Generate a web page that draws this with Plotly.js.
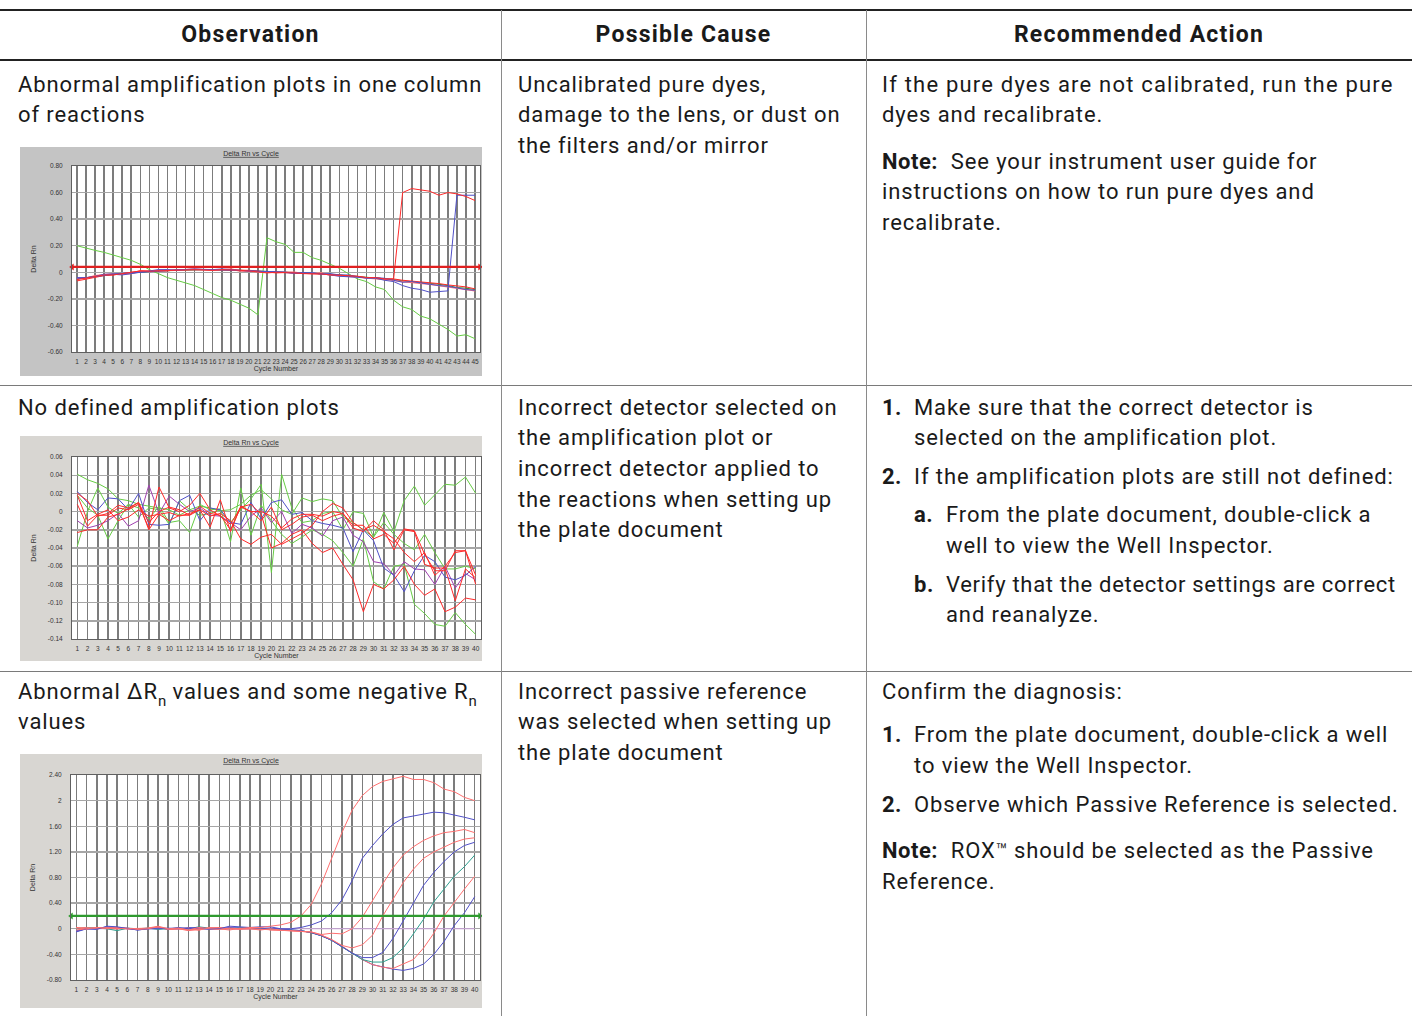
<!DOCTYPE html>
<html>
<head>
<meta charset="utf-8">
<script src="https://cdn.plot.ly/plotly-3.0.1.min.js"></script>
<style>
  html, body { margin:0; padding:0; background:#fff; }
  body { width:1412px; height:1016px; position:relative; overflow:hidden; font-family: Roboto, "DejaVu Sans", sans-serif; color:#1a1a1a; }
  .ln { position:absolute; white-space:nowrap; font-size:22px; letter-spacing:0.9px; line-height:30px; height:30px; }
  .hd { position:absolute; white-space:nowrap; font-size:23px; font-weight:700; line-height:30px; text-align:center; letter-spacing:1.2px; }
  .rule { position:absolute; background:#222; }
  .vr { position:absolute; background:#8a8a8a; width:1px; }
  .chart { position:absolute; }
  b { font-weight:700; letter-spacing:0.5px; }
  .sb { position:relative; top:7px; font-size:15px; letter-spacing:0; }
  .tm { position:relative; top:-1px; font-size:19px; letter-spacing:0; }
</style>
</head>
<body>
<script>
// ---------------- DATA ----------------
// Chart 1: Delta Rn vs Cycle (45 cycles)
const cycles45 = [1,2,3,4,5,6,7,8,9,10,11,12,13,14,15,16,17,18,19,20,21,22,23,24,25,26,27,28,29,30,31,32,33,34,35,36,37,38,39,40,41,42,43,44,45];
const c1Base1 = [-0.05,-0.04,-0.03,-0.02,-0.015,-0.01,-0.005,0.005,0.008,0.01,0.012,0.015,0.018,0.02,0.02,0.018,0.018,0.02,0.015,0.012,0.01,0.005,0.002,0.0,-0.002,-0.005,-0.008,-0.01,-0.015,-0.02,-0.025,-0.03,-0.035,-0.04,-0.05,-0.055,-0.065,-0.07,-0.08,-0.085,-0.09,-0.1,-0.115,-0.12,-0.13];
const c1Base2 = [-0.045,-0.045,-0.025,-0.02,-0.01,-0.015,-0.01,0.01,0.005,0.015,0.02,0.015,0.02,0.025,0.02,0.015,0.02,0.025,0.01,0.01,0.005,0.0,0.0,-0.005,0.0,-0.008,-0.01,-0.005,-0.02,-0.025,-0.03,-0.035,-0.04,-0.045,-0.055,-0.06,-0.07,-0.075,-0.085,-0.09,-0.1,-0.11,-0.12,-0.13,-0.14];
const c1Base3 = [-0.065,-0.05,-0.035,-0.025,-0.02,-0.01,0.0,0.01,0.01,0.012,0.01,0.02,0.02,0.015,0.02,0.02,0.015,0.02,0.02,0.015,0.01,0.0,-0.005,-0.002,-0.005,-0.005,-0.012,-0.015,-0.015,-0.02,-0.03,-0.03,-0.04,-0.04,-0.05,-0.05,-0.06,-0.065,-0.075,-0.08,-0.085,-0.095,-0.1,-0.11,-0.125];
const c1Base4 = [-0.04,-0.04,-0.03,-0.015,-0.012,-0.005,-0.003,0.0,0.005,0.005,0.015,0.018,0.022,0.025,0.022,0.02,0.02,0.018,0.015,0.01,0.008,0.005,0.005,0.002,-0.008,-0.002,-0.005,-0.012,-0.01,-0.02,-0.02,-0.035,-0.045,-0.04,-0.045,-0.06,-0.075,-0.07,-0.08,-0.095,-0.1,-0.105,-0.12,-0.13,-0.135];
const c1SpikeRed = [-0.055,-0.045,-0.03,-0.02,-0.02,-0.01,-0.005,0.01,0.008,0.01,0.015,0.018,0.02,0.02,0.018,0.015,0.02,0.02,0.015,0.01,0.005,-0.005,0.0,0.0,-0.005,-0.01,-0.01,-0.012,-0.02,-0.02,-0.025,-0.03,-0.04,-0.04,-0.05,-0.05,0.60,0.63,0.62,0.61,0.58,0.60,0.59,0.57,0.54];
const c1SpikeBlue = [-0.05,-0.04,-0.03,-0.02,-0.015,-0.02,-0.01,0.0,0.01,0.02,0.02,0.015,0.02,0.02,0.018,0.02,0.025,0.02,0.01,0.008,0.005,0.005,0.0,-0.005,-0.005,-0.01,-0.005,-0.01,-0.02,-0.03,-0.035,-0.04,-0.04,-0.045,-0.06,-0.07,-0.10,-0.12,-0.13,-0.15,-0.145,-0.14,0.58,0.58,0.58];
const c1Drift = [0.20,0.18,0.165,0.15,0.13,0.11,0.09,0.06,0.02,-0.01,-0.04,-0.06,-0.08,-0.10,-0.13,-0.16,-0.19,-0.21,-0.24,-0.27,-0.32,0.26,0.23,0.21,0.15,0.15,0.11,0.09,0.06,0.03,-0.01,-0.05,-0.07,-0.11,-0.13,-0.21,-0.26,-0.28,-0.33,-0.35,-0.39,-0.43,-0.48,-0.47,-0.50];
const c1Threshold = 0.04;
const c1TickVals = [0.8,0.6,0.4,0.2,0,-0.2,-0.4,-0.6];
const c1TickText = ["0.80","0.60","0.40","0.20","0","-0.20","-0.40","-0.60"];

// Chart 2: Delta Rn vs Cycle (40 cycles), noisy, no amplification
const cycles40 = [1,2,3,4,5,6,7,8,9,10,11,12,13,14,15,16,17,18,19,20,21,22,23,24,25,26,27,28,29,30,31,32,33,34,35,36,37,38,39,40];
const c2GreenA = [0.041,0.035,0.031,0.025,0.014,0.012,0.008,0.006,0.004,0.002,-0.004,0.002,0.006,0.004,0.001,0.002,0.008,0.018,0.024,0.014,0.002,-0.003,0.015,0.011,0.014,0.012,-0.006,-0.012,-0.02,-0.028,-0.001,-0.022,0.012,0.028,0.007,0.018,0.03,0.029,0.038,0.02];
const c2GreenB = [-0.038,0.0,0.026,0.005,-0.002,0.008,0.004,-0.008,0.006,-0.012,-0.01,-0.023,0.008,0.002,0.003,-0.033,0.026,-0.026,0.007,-0.01,-0.025,-0.035,-0.028,-0.02,-0.025,-0.032,-0.045,-0.06,-0.03,-0.077,-0.085,-0.06,-0.058,-0.102,-0.112,-0.124,-0.126,-0.111,-0.124,-0.135];
const c2GreenC = [0.018,0.004,-0.004,-0.03,-0.01,0.008,-0.006,0.004,0.002,-0.014,0.012,0.002,-0.004,-0.002,0.002,-0.012,0.002,0.014,0.03,-0.067,0.041,0.004,-0.012,-0.01,-0.002,0.0,-0.02,0.0,-0.002,-0.028,-0.012,-0.025,-0.035,-0.042,-0.025,-0.045,-0.063,-0.063,-0.06,-0.063];
const c2Blue = [0.022,0.01,0.002,0.015,0.014,0.002,0.02,-0.014,-0.015,-0.014,0.012,0.018,-0.01,0.004,0.002,-0.012,-0.014,0.01,-0.008,0.01,0.013,-0.003,-0.001,-0.01,-0.013,-0.015,-0.018,-0.044,-0.02,-0.032,-0.062,-0.07,-0.088,-0.065,-0.048,-0.055,-0.072,-0.075,-0.07,-0.06];
const c2Purple = [-0.01,-0.018,-0.015,-0.01,-0.002,-0.016,-0.01,0.029,-0.002,0.017,0.008,0.0,0.004,-0.004,-0.005,-0.012,-0.02,-0.005,0.004,-0.012,0.0,-0.024,-0.014,-0.018,-0.027,-0.01,-0.006,-0.026,-0.033,-0.055,-0.057,-0.07,-0.055,-0.063,-0.064,-0.08,-0.06,-0.084,-0.068,-0.075];
const c2RedD = [0.008,-0.016,-0.004,-0.004,0.004,0.002,0.008,-0.018,0.027,0.004,0.0,0.007,0.02,0.002,-0.005,-0.014,0.005,0.008,-0.003,-0.04,-0.035,-0.025,-0.02,-0.035,-0.045,-0.04,-0.058,-0.075,-0.11,-0.08,-0.085,-0.075,-0.06,-0.08,-0.092,-0.085,-0.11,-0.105,-0.095,-0.097];
const c2RedE = [-0.023,-0.02,-0.02,-0.006,-0.003,0.003,0.01,-0.02,-0.003,-0.001,-0.005,-0.002,0.002,-0.017,0.013,-0.022,0.006,0.0,-0.01,0.005,-0.02,-0.014,-0.006,-0.004,-0.01,-0.005,-0.002,-0.018,-0.022,-0.01,-0.02,-0.042,-0.02,-0.022,-0.058,-0.062,-0.062,-0.098,-0.063,-0.073];
const c2RedF = [0.02,0.012,-0.005,-0.002,0.007,0.004,0.01,-0.012,0.0,0.005,0.002,-0.004,0.002,-0.005,-0.002,-0.01,-0.03,-0.036,-0.028,-0.025,-0.036,-0.03,-0.024,-0.015,0.0,0.009,0.004,-0.012,-0.02,-0.015,-0.022,-0.03,-0.045,-0.055,-0.045,-0.07,-0.06,-0.045,-0.043,-0.08];
const c2RedG = [0.018,-0.01,-0.003,0.002,-0.01,-0.006,0.002,-0.005,-0.003,-0.01,-0.004,-0.004,0.006,-0.002,-0.004,-0.02,0.005,0.0,0.0,-0.005,-0.018,-0.008,-0.003,-0.003,-0.005,0.0,-0.002,-0.015,-0.015,-0.03,-0.025,-0.035,-0.019,-0.021,-0.047,-0.065,-0.065,-0.043,-0.043,-0.07];
const c2TickVals = [0.06,0.04,0.02,0,-0.02,-0.04,-0.06,-0.08,-0.10,-0.12,-0.14];
const c2TickText = ["0.06","0.04","0.02","0","-0.02","-0.04","-0.06","-0.08","-0.10","-0.12","-0.14"];

// Chart 3: Delta Rn vs Cycle (40 cycles), wrong passive reference
const c3Red1  = [-0.02,0.0,0.02,0.01,0.0,0.01,-0.01,0.0,0.03,0.0,0.01,-0.02,0.02,0.0,-0.01,0.01,0.0,0.02,0.02,0.04,0.06,0.1,0.2,0.38,0.7,1.1,1.5,1.85,2.08,2.22,2.3,2.34,2.38,2.33,2.33,2.28,2.18,2.14,2.05,2.0];
const c3Blue1 = [-0.05,0.0,-0.01,0.04,0.03,0.0,-0.02,0.0,0.01,0.0,0.02,0.0,0.02,0.0,0.0,0.04,0.03,0.02,0.03,0.03,0.0,0.0,0.02,0.06,0.12,0.25,0.45,0.75,1.1,1.3,1.48,1.63,1.73,1.76,1.8,1.82,1.81,1.78,1.74,1.7];
const c3Red2  = [0.02,-0.01,0.02,0.02,0.01,0.0,0.0,0.01,0.04,0.0,0.0,-0.03,0.0,0.01,0.02,0.0,0.0,0.0,-0.02,0.0,-0.02,-0.03,-0.04,-0.05,-0.09,-0.07,-0.08,0.0,0.18,0.45,0.7,0.95,1.15,1.28,1.38,1.45,1.5,1.52,1.55,1.5];
const c3Red3  = [0.01,0.02,0.0,0.01,0.02,0.0,-0.01,0.01,0.02,-0.01,0.0,0.01,-0.02,0.02,0.0,-0.02,0.01,0.0,-0.01,-0.01,-0.02,-0.03,-0.04,-0.05,-0.1,-0.17,-0.26,-0.3,-0.25,-0.1,0.2,0.45,0.72,0.93,1.1,1.2,1.28,1.35,1.4,1.42];
const c3Blue2 = [-0.03,0.0,0.0,0.03,0.02,0.01,-0.02,0.0,0.0,0.01,0.0,0.02,0.01,-0.01,0.0,0.02,0.01,0.0,0.0,0.01,-0.01,-0.02,-0.03,-0.06,-0.11,-0.18,-0.28,-0.38,-0.45,-0.45,-0.37,-0.15,0.12,0.4,0.68,0.88,1.05,1.2,1.3,1.35];
const c3Teal  = [0.0,0.02,0.01,0.0,-0.03,0.01,0.0,0.01,-0.01,0.0,0.01,0.0,0.03,0.01,0.0,0.0,0.02,0.01,0.0,0.0,-0.01,-0.02,-0.03,-0.06,-0.11,-0.18,-0.28,-0.38,-0.48,-0.52,-0.52,-0.45,-0.3,-0.08,0.15,0.42,0.62,0.82,0.97,1.15];
const c3Red4  = [0.02,0.0,0.02,0.0,0.0,0.0,0.01,0.0,0.03,-0.01,0.0,-0.02,-0.02,0.01,0.02,0.0,-0.01,0.0,0.02,-0.02,-0.02,-0.03,-0.04,-0.06,-0.1,-0.17,-0.27,-0.38,-0.48,-0.56,-0.6,-0.62,-0.55,-0.48,-0.3,-0.07,0.2,0.42,0.62,0.82];
const c3Blue3 = [-0.04,0.0,0.0,0.02,0.02,0.0,0.0,0.0,0.02,-0.01,0.0,0.0,0.01,0.0,0.0,0.0,0.01,0.0,0.0,0.0,-0.01,-0.02,-0.03,-0.06,-0.11,-0.18,-0.28,-0.38,-0.48,-0.56,-0.6,-0.63,-0.65,-0.62,-0.55,-0.4,-0.2,0.05,0.25,0.5];
const c3Purple = [0,0,0,0,0,0,0,0,0,0,0,0,0,0,0,0,0,0,0,0,0,0,0,0,0,0,0,0,0,0,0,0,0,0,0,0,0,0,0,0];
const c3Threshold = 0.2;
const c3TickVals = [2.4,2.0,1.6,1.2,0.8,0.4,0,-0.4,-0.8];
const c3TickText = ["2.40","2","1.60","1.20","0.80","0.40","0","-0.40","-0.80"];

// ---------------- TABLE TEXT ----------------
const headers = [
  {t:"Observation", x:0, w:501},
  {t:"Possible Cause", x:501, w:365},
  {t:"Recommended Action", x:866, w:546}
];
const lines = [
  // row 1
  [18, 85, "Abnormal amplification plots in one column"],
  [18, 115, "of reactions"],
  [518, 85, "Uncalibrated pure dyes,"],
  [518, 115, "damage to the lens, or dust on"],
  [518, 146, "the filters and/or mirror"],
  [882, 85, "If the pure dyes are not calibrated, run the pure", 1.2],
  [882, 115, "dyes and recalibrate."],
  [882, 162, "<b>Note:</b>&nbsp; See your instrument user guide for"],
  [882, 192, "instructions on how to run pure dyes and"],
  [882, 223, "recalibrate."],
  // row 2
  [18, 408, "No defined amplification plots"],
  [518, 408, "Incorrect detector selected on"],
  [518, 438, "the amplification plot or"],
  [518, 469, "incorrect detector applied to"],
  [518, 500, "the reactions when setting up"],
  [518, 530, "the plate document"],
  [882, 408, "<b>1.</b>"], [914, 408, "Make sure that the correct detector is"],
  [914, 438, "selected on the amplification plot."],
  [882, 477, "<b>2.</b>"], [914, 477, "If the amplification plots are still not defined:"],
  [914, 515, "<b>a.</b>"], [946, 515, "From the plate document, double-click a"],
  [946, 546, "well to view the Well Inspector."],
  [914, 585, "<b>b.</b>"], [946, 585, "Verify that the detector settings are correct", 0.7],
  [946, 615, "and reanalyze."],
  // row 3
  [18, 692, "Abnormal &Delta;R<span class='sb'>n</span> values and some negative R<span class='sb'>n</span>"],
  [18, 722, "values"],
  [518, 692, "Incorrect passive reference"],
  [518, 722, "was selected when setting up"],
  [518, 753, "the plate document"],
  [882, 692, "Confirm the diagnosis:"],
  [882, 735, "<b>1.</b>"], [914, 735, "From the plate document, double-click a well"],
  [914, 766, "to view the Well Inspector."],
  [882, 805, "<b>2.</b>"], [914, 805, "Observe which Passive Reference is selected."],
  [882, 851, "<b>Note:</b>&nbsp; ROX<span class='tm'>&trade;</span> should be selected as the Passive"],
  [882, 882, "Reference."]
];

function addDiv(cls, style, html) {
  const d = document.createElement('div');
  d.className = cls;
  Object.assign(d.style, style);
  if (html !== undefined) d.innerHTML = html;
  document.body.appendChild(d);
  return d;
}
// rules
addDiv('rule', {left:'0px', top:'9px', width:'1412px', height:'1.5px'});
addDiv('rule', {left:'0px', top:'59px', width:'1412px', height:'2px'});
addDiv('rule', {left:'0px', top:'385px', width:'1412px', height:'1px', background:'#7a7a7a'});
addDiv('rule', {left:'0px', top:'671px', width:'1412px', height:'1px', background:'#7a7a7a'});
addDiv('vr', {left:'501px', top:'10px', height:'1006px'});
addDiv('vr', {left:'866px', top:'10px', height:'1006px'});
headers.forEach(h => addDiv('hd', {left:h.x+'px', width:h.w+'px', top:(35-15)+'px'}, h.t));
lines.forEach(l => {
  const st = {left:l[0]+'px', top:(l[1]-15)+'px'};
  if (l[3] !== undefined) st.letterSpacing = l[3] + 'px';
  addDiv('ln', st, l[2]);
});

// ---------------- CHARTS ----------------
const RED = '#ff2a2a', PINK = '#ff7070', BLUE = '#5050c8', GREEN = '#66cc44', DKGREEN = '#2e8b2e', PURPLE = '#a040b0', TEAL = '#2fa090', LPURPLE = '#c9a0d8';

function line(x, y, color, w) {
  return {x:x, y:y, type:'scatter', mode:'lines', line:{color:color, width:w||1, shape:'linear'}, hoverinfo:'skip', showlegend:false};
}
function thresholdTrace(val, xr, color) {
  return {x:[xr[0]+0.02, xr[1]-0.02], y:[val, val], type:'scatter', mode:'lines+markers',
    line:{color:color, width:2.2}, marker:{symbol:['triangle-left','triangle-right'], size:6, color:color},
    hoverinfo:'skip', showlegend:false, cliponaxis:false};
}
const TF = 'Liberation Sans, Arial, sans-serif';
function layoutFor(bg, xr, yr, tv, tt, xvals, m) {
  return {
    width:m.w, height:m.h, paper_bgcolor:bg, plot_bgcolor:'#ffffff',
    margin:{l:m.l, r:m.r, t:m.t, b:m.b, pad:0},
    showlegend:false,
    title:{text:'Delta Rn vs Cycle', x:0.5, xanchor:'center', y:1-4/m.h, yanchor:'top',
      font:{family:TF, size:7, color:'#333', lineposition:'under'}},
    xaxis:{range:xr, tickmode:'array', tickvals:xvals, ticktext:xvals.map(String), tickangle:0, showgrid:true,
      gridcolor:'#7c7c7c', gridwidth:1.6, zeroline:false, showline:true, linecolor:'#606060', linewidth:1, mirror:true,
      ticks:'', ticklabelstandoff:3, tickfont:{family:TF, size:6.5, color:'#333'},
      title:{text:'Cycle Number', standoff:2, font:{family:TF, size:7, color:'#333'}}, fixedrange:true},
    yaxis:{range:yr, tickmode:'array', tickvals:tv, ticktext:tt, showgrid:true, gridcolor:'#a6a6a6', gridwidth:1.4,
      zeroline:false, showline:true, linecolor:'#606060', linewidth:1, mirror:true,
      ticks:'', ticklabelstandoff:7, tickfont:{family:TF, size:6.5, color:'#333'},
      title:{text:'Delta Rn', standoff:10, font:{family:TF, size:7, color:'#333'}}, fixedrange:true}
  };
}
function chartDiv(left, top, w, h) {
  return addDiv('chart', {left:left+'px', top:top+'px', width:w+'px', height:h+'px'});
}
const cfg = {staticPlot:true, displayModeBar:false};

// Chart 1
const m1 = {w:462, h:229, l:52, r:2, t:19, b:24};
const xr1 = [0.45, 45.55];
const d1 = chartDiv(20, 147, m1.w, m1.h);
Plotly.newPlot(d1, [
  line(cycles45, c1Drift, GREEN, 1),
  line(cycles45, c1Base1, DKGREEN, 1),
  line(cycles45, c1Base2, PINK, 1.4),
  line(cycles45, c1Base3, RED, 1),
  line(cycles45, c1Base4, BLUE, 1),
  line(cycles45, c1SpikeBlue, BLUE, 1),
  line(cycles45, c1SpikeRed, RED, 1),
  thresholdTrace(c1Threshold, xr1, '#e02020')
], layoutFor('#c4c4c4', xr1, [-0.6, 0.8], c1TickVals, c1TickText, cycles45, m1), cfg);

// Chart 2
const m2 = {w:462, h:225, l:52, r:1, t:21, b:22};
const xr2 = [0.48, 40.52];
const d2 = chartDiv(20, 436, m2.w, m2.h);
Plotly.newPlot(d2, [
  line(cycles40, c2GreenA, GREEN, 1),
  line(cycles40, c2GreenB, GREEN, 1),
  line(cycles40, c2GreenC, GREEN, 1),
  line(cycles40, c2Purple, PURPLE, 1),
  line(cycles40, c2Blue, BLUE, 1),
  line(cycles40, c2RedD, RED, 1),
  line(cycles40, c2RedE, RED, 1),
  line(cycles40, c2RedF, RED, 1),
  line(cycles40, c2RedG, RED, 1)
], layoutFor('#d8d6d2', xr2, [-0.14, 0.06], c2TickVals, c2TickText, cycles40, m2), cfg);

// Chart 3
const m3 = {w:462, h:254, l:51, r:2, t:21, b:28};
const xr3 = [0.48, 40.52];
const d3 = chartDiv(20, 754, m3.w, m3.h);
Plotly.newPlot(d3, [
  line(cycles40, c3Purple, LPURPLE, 1),
  line(cycles40, c3Blue3, BLUE, 1),
  line(cycles40, c3Red4, PINK, 1),
  line(cycles40, c3Teal, TEAL, 1),
  line(cycles40, c3Blue2, BLUE, 1),
  line(cycles40, c3Red3, PINK, 1),
  line(cycles40, c3Red2, PINK, 1),
  line(cycles40, c3Blue1, BLUE, 1),
  line(cycles40, c3Red1, PINK, 1),
  thresholdTrace(c3Threshold, xr3, '#2e9a2e')
], layoutFor('#d8d6d2', xr3, [-0.8, 2.4], c3TickVals, c3TickText, cycles40, m3), cfg);
</script>
</body>
</html>
